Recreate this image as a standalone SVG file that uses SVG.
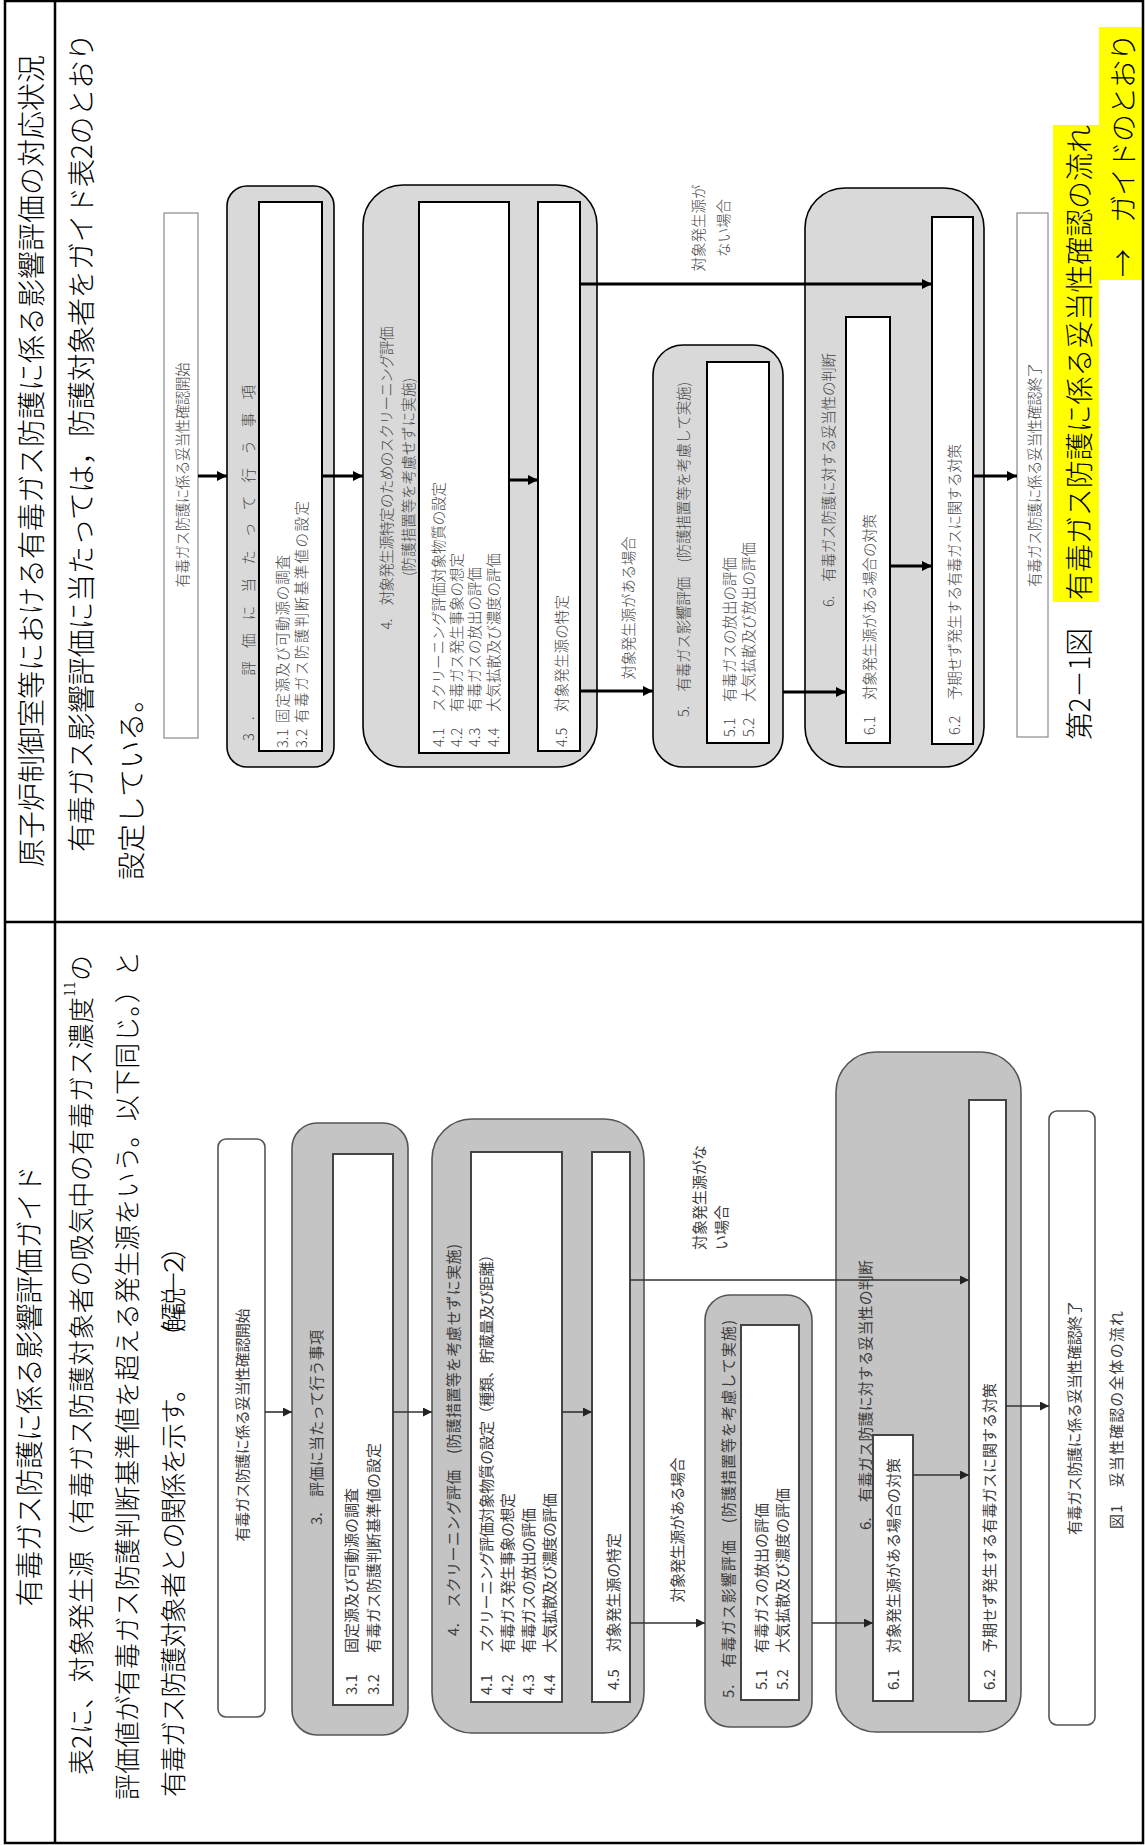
<svg xmlns="http://www.w3.org/2000/svg" width="1145" height="1845" viewBox="0 0 1145 1845">
<defs>
<style>
text{font-family:"Noto Sans CJK JP","Noto Sans CJK SC",sans-serif;dominant-baseline:central}
.big{font-size:28px;fill:#000;font-weight:300}
.big2{font-size:26px;fill:#000;font-weight:300}
.f1{font-size:14.5px;fill:#444;font-weight:300}
.f2{font-size:15px;fill:#3c3c3c}
.mid{text-anchor:middle}
.tb{fill:none;stroke:#000;stroke-width:2.5}
.g1{fill:#d9d9d9;stroke:#000;stroke-width:1.6}
.w1{fill:#fff;stroke:#000;stroke-width:2}
.e1{fill:#fff;stroke:#8a8a8a;stroke-width:1.2}
.g2{fill:#c4c4c4;stroke:#555;stroke-width:1.6}
.w2{fill:#fff;stroke:#444;stroke-width:2}
.e2{fill:#fff;stroke:#555;stroke-width:1.6}
.a1{stroke:#000;stroke-width:3;fill:none}
.a2{stroke:#333;stroke-width:1.6;fill:none}
.hl{fill:#ffff00}
</style>
<marker id="h1" viewBox="0 0 10 10" refX="10" refY="5" markerWidth="11" markerHeight="10" markerUnits="userSpaceOnUse" orient="auto"><path d="M0,0L10,5L0,10z" fill="#000"/></marker>
<marker id="h2" viewBox="0 0 10 10" refX="10" refY="5" markerWidth="11" markerHeight="9" markerUnits="userSpaceOnUse" orient="auto"><path d="M0,0L10,5L0,10z" fill="#222"/></marker>
</defs>
<rect width="1145" height="1845" fill="#fff"/>

<!-- highlights -->
<rect class="hl" x="1053" y="125" width="46" height="477"/>
<rect class="hl" x="1099" y="27" width="45" height="253"/>

<!-- table -->
<g id="table">
<rect class="tb" x="5" y="1" width="1138" height="1842"/>
<line class="tb" x1="55" y1="1" x2="55" y2="1843"/>
<line class="tb" x1="5" y1="922" x2="1143" y2="922"/>
</g>

<!-- top half texts -->
<g id="top-text">
<text class="big mid" transform="translate(30,461) rotate(-90)" textLength="812" lengthAdjust="spacing">原子炉制御室等における有毒ガス防護に係る影響評価の対応状況</text>
<text class="big" transform="translate(80,852) rotate(-90)" textLength="819" lengthAdjust="spacing">有毒ガス影響評価に当たっては，防護対象者をガイド表2のとおり</text>
<text class="big" transform="translate(130,880) rotate(-90)">設定している。</text>
<text class="big" transform="translate(1078,740) rotate(-90)" textLength="112" lengthAdjust="spacing">第2－1図</text>
<text class="big" transform="translate(1078,600) rotate(-90)" textLength="475" lengthAdjust="spacing">有毒ガス防護に係る妥当性確認の流れ</text>
<text class="big" transform="translate(1122,277) rotate(-90)" textLength="244" lengthAdjust="spacing">→　ガイドのとおり</text>
</g>

<!-- top flowchart -->
<g id="top-start">
<rect class="e1" x="164" y="213" width="34" height="525"/>
<text class="f1 mid" transform="translate(181,475) rotate(-90)" textLength="225" lengthAdjust="spacing">有毒ガス防護に係る妥当性確認開始</text>
</g>
<g id="top-n3">
<rect class="g1" x="227" y="186" width="107" height="581" rx="20"/>
<rect class="w1" x="259" y="202" width="63" height="549"/>
<text class="f1" transform="translate(247,741) rotate(-90)" textLength="356" lengthAdjust="spacing">3.　評価に当たって行う事項</text>
<text class="f1" transform="translate(281,748) rotate(-90)">3.1</text>
<text class="f1" transform="translate(281,723) rotate(-90)" textLength="168" lengthAdjust="spacing">固定源及び可動源の調査</text>
<text class="f1" transform="translate(300,748) rotate(-90)">3.2</text>
<text class="f1" transform="translate(300,723) rotate(-90)" textLength="222" lengthAdjust="spacing">有毒ガス防護判断基準値の設定</text>
</g>
<g id="top-n4">
<rect class="g1" x="363" y="185" width="234" height="582" rx="40"/>
<text class="f1 mid" transform="translate(385,478) rotate(-90)" textLength="303" lengthAdjust="spacing">4.　対象発生源特定のためのスクリーニング評価</text>
<text class="f1 mid" transform="translate(407,477) rotate(-90)" textLength="198" lengthAdjust="spacing">(防護措置等を考慮せずに実施)</text>
<rect class="w1" x="419" y="202" width="90" height="551"/>
<text class="f1" transform="translate(437,747) rotate(-90)">4.1</text>
<text class="f1" transform="translate(437,712) rotate(-90)" textLength="230" lengthAdjust="spacing">スクリーニング評価対象物質の設定</text>
<text class="f1" transform="translate(455,747) rotate(-90)">4.2</text>
<text class="f1" transform="translate(455,712) rotate(-90)" textLength="159" lengthAdjust="spacing">有毒ガス発生事象の想定</text>
<text class="f1" transform="translate(473,747) rotate(-90)">4.3</text>
<text class="f1" transform="translate(473,712) rotate(-90)" textLength="145" lengthAdjust="spacing">有毒ガスの放出の評価</text>
<text class="f1" transform="translate(492,747) rotate(-90)">4.4</text>
<text class="f1" transform="translate(492,712) rotate(-90)" textLength="159" lengthAdjust="spacing">大気拡散及び濃度の評価</text>
<rect class="w1" x="538" y="202" width="42" height="549"/>
<text class="f1" transform="translate(560,747) rotate(-90)">4.5</text>
<text class="f1" transform="translate(560,712) rotate(-90)" textLength="117" lengthAdjust="spacing">対象発生源の特定</text>
</g>
<g id="top-n5">
<rect class="g1" x="653" y="345" width="130" height="422" rx="30"/>
<text class="f1" transform="translate(682,717) rotate(-90)" textLength="335" lengthAdjust="spacing">5.　有毒ガス影響評価　(防護措置等を考慮して実施)</text>
<rect class="w1" x="707" y="362" width="62" height="381"/>
<text class="f1" transform="translate(728,737) rotate(-90)">5.1</text>
<text class="f1" transform="translate(728,702) rotate(-90)" textLength="145" lengthAdjust="spacing">有毒ガスの放出の評価</text>
<text class="f1" transform="translate(747,737) rotate(-90)">5.2</text>
<text class="f1" transform="translate(747,702) rotate(-90)" textLength="160" lengthAdjust="spacing">大気拡散及び放出の評価</text>
</g>
<g id="top-n6">
<rect class="g1" x="805" y="188" width="179" height="579" rx="40"/>
<text class="f1 mid" transform="translate(827,480) rotate(-90)" textLength="254" lengthAdjust="spacing">6.　有毒ガス防護に対する妥当性の判断</text>
<rect class="w1" x="846" y="317" width="44" height="426"/>
<text class="f1" transform="translate(868,735) rotate(-90)">6.1</text>
<text class="f1" transform="translate(868,700) rotate(-90)" textLength="186" lengthAdjust="spacing">対象発生源がある場合の対策</text>
<rect class="w1" x="932" y="217" width="41" height="527"/>
<text class="f1" transform="translate(953,735) rotate(-90)">6.2</text>
<text class="f1" transform="translate(953,700) rotate(-90)" textLength="256" lengthAdjust="spacing">予期せず発生する有毒ガスに関する対策</text>
</g>
<g id="top-end">
<rect class="e1" x="1017" y="213" width="31" height="524"/>
<text class="f1 mid" transform="translate(1033,475) rotate(-90)" textLength="224" lengthAdjust="spacing">有毒ガス防護に係る妥当性確認終了</text>
</g>
<g id="top-connectors">
<line class="a1" x1="198" y1="476" x2="227" y2="476" marker-end="url(#h1)"/>
<line class="a1" x1="322" y1="476" x2="363" y2="476" marker-end="url(#h1)"/>
<line class="a1" x1="509" y1="480" x2="538" y2="480" marker-end="url(#h1)"/>
<line class="a1" x1="580" y1="691" x2="653" y2="691" marker-end="url(#h1)"/>
<line class="a1" x1="580" y1="284" x2="932" y2="284" marker-end="url(#h1)"/>
<line class="a1" x1="783" y1="692" x2="846" y2="692" marker-end="url(#h1)"/>
<line class="a1" x1="890" y1="566" x2="932" y2="566" marker-end="url(#h1)"/>
<line class="a1" x1="973" y1="476" x2="1017" y2="476" marker-end="url(#h1)"/>
<text class="f1 mid" transform="translate(627,608) rotate(-90)" textLength="143" lengthAdjust="spacing">対象発生源がある場合</text>
<text class="f1 mid" transform="translate(697,228) rotate(-90)">対象発生源が</text>
<text class="f1 mid" transform="translate(722,228) rotate(-90)">ない場合</text>
</g>

<!-- bottom half texts -->
<g id="bottom-text">
<text class="big mid" transform="translate(28,1386) rotate(-90)" textLength="441" lengthAdjust="spacing">有毒ガス防護に係る影響評価ガイド</text>
<text class="big2" transform="translate(79,1775) rotate(-90)" textLength="820" lengthAdjust="spacing">表2に、対象発生源（有毒ガス防護対象者の吸気中の有毒ガス濃度<tspan font-size="14" baseline-shift="super">11</tspan>の</text>
<text class="big2" transform="translate(125,1800) rotate(-90)" textLength="849" lengthAdjust="spacing">評価値が有毒ガス防護判断基準値を超える発生源をいう。以下同じ。）と</text>
<text class="big2" transform="translate(171,1797) rotate(-90)" textLength="421" lengthAdjust="spacing">有毒ガス防護対象者との関係を示す。</text>
<text class="big2" transform="translate(171,1350) rotate(-90)" textLength="116" lengthAdjust="spacing">（解説－２）</text>
</g>

<!-- bottom flowchart -->
<g id="bot-start">
<rect class="e2" x="218" y="1139" width="47" height="578" rx="8"/>
<text class="f2 mid" transform="translate(241,1425) rotate(-90)" textLength="233" lengthAdjust="spacing">有毒ガス防護に係る妥当性確認開始</text>
</g>
<g id="bot-n3">
<rect class="g2" x="292" y="1123" width="116" height="612" rx="25"/>
<rect class="w2" x="333" y="1154" width="60" height="551"/>
<text class="f2" transform="translate(315,1525) rotate(-90)" textLength="195" lengthAdjust="spacing">3.　評価に当たって行う事項</text>
<text class="f2" transform="translate(350,1695) rotate(-90)">3.1</text>
<text class="f2" transform="translate(350,1653) rotate(-90)" textLength="165" lengthAdjust="spacing">固定源及び可動源の調査</text>
<text class="f2" transform="translate(372,1695) rotate(-90)">3.2</text>
<text class="f2" transform="translate(372,1653) rotate(-90)" textLength="210" lengthAdjust="spacing">有毒ガス防護判断基準値の設定</text>
</g>
<g id="bot-n4">
<rect class="g2" x="432" y="1119" width="212" height="614" rx="40"/>
<text class="f2" transform="translate(452,1636) rotate(-90)" textLength="392" lengthAdjust="spacing">4.　スクリーニング評価　(防護措置等を考慮せずに実施)</text>
<rect class="w2" x="471" y="1152" width="91" height="550"/>
<text class="f2" transform="translate(485,1695) rotate(-90)">4.1</text>
<text class="f2" transform="translate(485,1653) rotate(-90)" textLength="406" lengthAdjust="spacing">スクリーニング評価対象物質の設定（種類、貯蔵量及び距離）</text>
<text class="f2" transform="translate(506,1695) rotate(-90)">4.2</text>
<text class="f2" transform="translate(506,1653) rotate(-90)" textLength="160" lengthAdjust="spacing">有毒ガス発生事象の想定</text>
<text class="f2" transform="translate(527,1695) rotate(-90)">4.3</text>
<text class="f2" transform="translate(527,1653) rotate(-90)" textLength="145" lengthAdjust="spacing">有毒ガスの放出の評価</text>
<text class="f2" transform="translate(548,1695) rotate(-90)">4.4</text>
<text class="f2" transform="translate(548,1653) rotate(-90)" textLength="160" lengthAdjust="spacing">大気拡散及び濃度の評価</text>
<rect class="w2" x="592" y="1152" width="38" height="550"/>
<text class="f2" transform="translate(612,1690) rotate(-90)">4.5</text>
<text class="f2" transform="translate(612,1652) rotate(-90)" textLength="119" lengthAdjust="spacing">対象発生源の特定</text>
</g>
<g id="bot-n5">
<rect class="g2" x="705" y="1295" width="107" height="432" rx="25"/>
<text class="f2" transform="translate(727,1698) rotate(-90)" textLength="378" lengthAdjust="spacing">5.　有毒ガス影響評価　(防護措置等を考慮して実施)</text>
<rect class="w2" x="741" y="1325" width="58" height="375"/>
<text class="f2" transform="translate(760,1690) rotate(-90)">5.1</text>
<text class="f2" transform="translate(760,1653) rotate(-90)" textLength="150" lengthAdjust="spacing">有毒ガスの放出の評価</text>
<text class="f2" transform="translate(781,1690) rotate(-90)">5.2</text>
<text class="f2" transform="translate(781,1653) rotate(-90)" textLength="165" lengthAdjust="spacing">大気拡散及び濃度の評価</text>
</g>
<g id="bot-n6">
<rect class="g2" x="836" y="1052" width="185" height="680" rx="40"/>
<text class="f2" transform="translate(864,1530) rotate(-90)" textLength="270" lengthAdjust="spacing">6.　有毒ガス防護に対する妥当性の判断</text>
<rect class="w2" x="873" y="1435" width="40" height="266"/>
<text class="f2" transform="translate(892,1690) rotate(-90)">6.1</text>
<text class="f2" transform="translate(892,1653) rotate(-90)" textLength="195" lengthAdjust="spacing">対象発生源がある場合の対策</text>
<rect class="w2" x="969" y="1100" width="37" height="601"/>
<text class="f2" transform="translate(988,1690) rotate(-90)">6.2</text>
<text class="f2" transform="translate(988,1653) rotate(-90)" textLength="270" lengthAdjust="spacing">予期せず発生する有毒ガスに関する対策</text>
</g>
<g id="bot-end">
<rect class="e2" x="1049" y="1111" width="46" height="614" rx="8"/>
<text class="f2 mid" transform="translate(1073,1418) rotate(-90)" textLength="234" lengthAdjust="spacing">有毒ガス防護に係る妥当性確認終了</text>
<text class="f2" transform="translate(1115,1529) rotate(-90)" textLength="218" lengthAdjust="spacing">図1　妥当性確認の全体の流れ</text>
</g>
<g id="bot-connectors">
<line class="a2" x1="265" y1="1412" x2="292" y2="1412" marker-end="url(#h2)"/>
<line class="a2" x1="393" y1="1412" x2="432" y2="1412" marker-end="url(#h2)"/>
<line class="a2" x1="562" y1="1412" x2="592" y2="1412" marker-end="url(#h2)"/>
<line class="a2" x1="630" y1="1623" x2="705" y2="1623" marker-end="url(#h2)"/>
<line class="a2" x1="630" y1="1280" x2="969" y2="1280" marker-end="url(#h2)"/>
<line class="a2" x1="812" y1="1623" x2="873" y2="1623" marker-end="url(#h2)"/>
<line class="a2" x1="913" y1="1475" x2="969" y2="1475" marker-end="url(#h2)"/>
<line class="a2" x1="1006" y1="1406" x2="1049" y2="1406" marker-end="url(#h2)"/>
<text class="f2 mid" transform="translate(676,1530) rotate(-90)" textLength="145" lengthAdjust="spacing">対象発生源がある場合</text>
<text class="f2" transform="translate(698,1250) rotate(-90)">対象発生源がな</text>
<text class="f2" transform="translate(720,1250) rotate(-90)">い場合</text>
</g>
</svg>
